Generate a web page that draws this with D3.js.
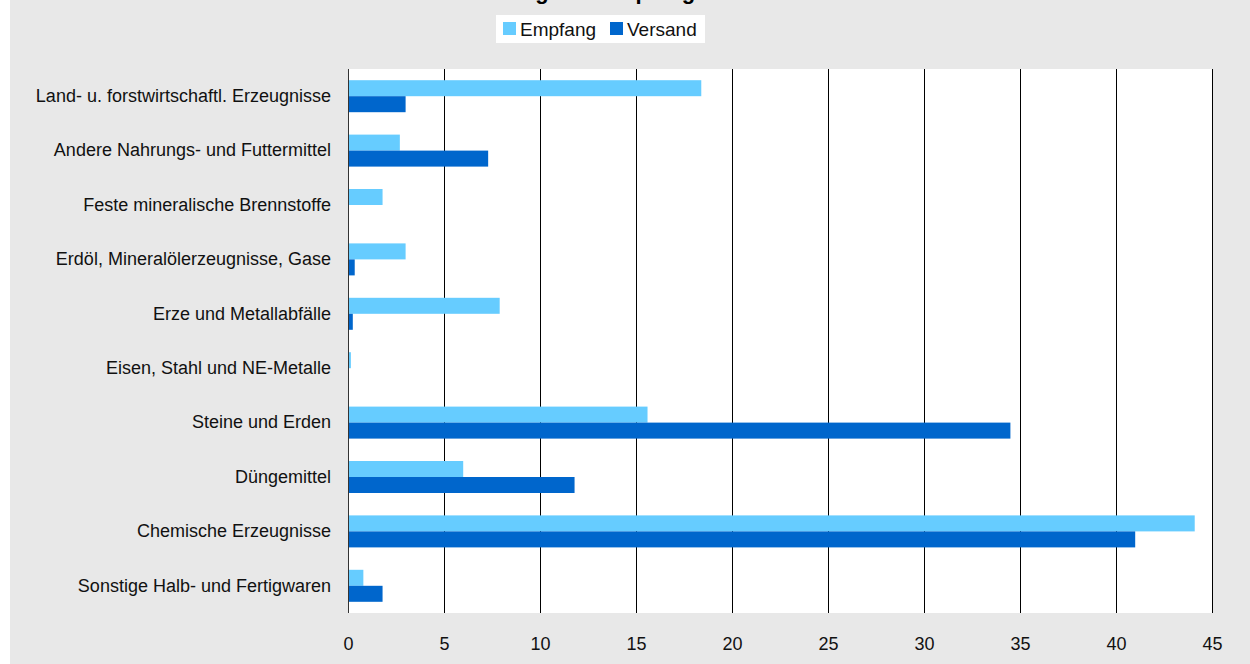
<!DOCTYPE html>
<html>
<head>
<meta charset="utf-8">
<script src="https://cdn.jsdelivr.net/npm/d3@7/dist/d3.min.js"></script>
<style>
  html, body { margin: 0; padding: 0; background: #ffffff; }
  svg { display: block; font-family: "Liberation Sans", Arial, sans-serif; }
</style>
</head>
<body>
<svg id="chart" width="1250" height="664"></svg>
<script>
const categories = [
  "Land- u. forstwirtschaftl. Erzeugnisse",
  "Andere Nahrungs- und Futtermittel",
  "Feste mineralische Brennstoffe",
  "Erdöl, Mineralölerzeugnisse, Gase",
  "Erze und Metallabfälle",
  "Eisen, Stahl und NE-Metalle",
  "Steine und Erden",
  "Düngemittel",
  "Chemische Erzeugnisse",
  "Sonstige Halb- und Fertigwaren"
];
const seriesNames = ["Empfang", "Versand"];
const empfang = [18.4, 2.7, 1.8, 3.0, 7.9, 0.15, 15.6, 6.0, 44.1, 0.8];
const versand = [3.0, 7.3, 0, 0.35, 0.25, 0, 34.5, 11.8, 41.0, 1.8];
const xTicks = [0, 5, 10, 15, 20, 25, 30, 35, 40, 45];
const titleText = "Versendung und Empfang";

const colors = { "Empfang": "#66CCFF", "Versand": "#0066CC" };
const seriesValues = { "Empfang": empfang, "Versand": versand };

const svg = d3.select("#chart");
const W = 1250, H = 664;
const plot = { left: 348, right: 1212, top: 69, bottom: 613 };

// backgrounds
svg.append("rect").attr("x", 10).attr("y", 0).attr("width", W - 10).attr("height", H).attr("fill", "#e8e8e8");
svg.append("rect").attr("x", plot.left).attr("y", plot.top)
  .attr("width", plot.right - plot.left).attr("height", plot.bottom - plot.top).attr("fill", "#ffffff");

// title (mostly cut off at top)
svg.append("text").attr("x", 559).attr("y", -1).attr("text-anchor", "middle")
  .attr("font-size", 22).attr("font-weight", "bold").attr("fill", "#000")
  .text(titleText);

const x = d3.scaleLinear().domain([0, 45]).range([plot.left, plot.right]);
const y = d3.scaleBand().domain(categories).range([plot.top, plot.bottom]).padding(0);
const ySub = d3.scaleBand().domain(seriesNames).range([0, y.bandwidth()]).paddingInner(0).paddingOuter(0.7);

// gridlines
svg.append("g").selectAll("line").data(xTicks.filter(d => d > 0)).join("line")
  .attr("x1", d => Math.round(x(d)) + 0.5).attr("x2", d => Math.round(x(d)) + 0.5)
  .attr("y1", plot.top).attr("y2", plot.bottom)
  .attr("stroke", "#000").attr("stroke-width", 1);

// bars
const rows = [];
categories.forEach((c, i) => seriesNames.forEach(s => rows.push({ c, s, v: seriesValues[s][i] })));
svg.append("g").selectAll("rect").data(rows.filter(d => d.v > 0)).join("rect")
  .attr("x", x(0))
  .attr("y", d => y(d.c) + ySub(d.s))
  .attr("width", d => x(d.v) - x(0))
  .attr("height", ySub.bandwidth())
  .attr("fill", d => colors[d.s]);

// left axis line
svg.append("line").attr("x1", plot.left + 0.5).attr("x2", plot.left + 0.5)
  .attr("y1", plot.top).attr("y2", plot.bottom).attr("stroke", "#333").attr("stroke-width", 1);

// x axis labels
const xAxis = d3.axisBottom(x).tickValues(xTicks).tickSize(0).tickPadding(0).tickFormat(d3.format("d"));
const gx = svg.append("g").attr("transform", `translate(0,${plot.bottom})`).call(xAxis);
gx.select(".domain").remove();
gx.selectAll("text").attr("font-size", 18).attr("font-family", "Liberation Sans, Arial, sans-serif")
  .attr("fill", "#111").attr("dy", null).attr("y", 37);

// y axis labels
const yAxis = d3.axisLeft(y).tickSize(0).tickPadding(17);
const gy = svg.append("g").attr("transform", `translate(${plot.left},0)`).call(yAxis);
gy.select(".domain").remove();
gy.selectAll("text").attr("font-size", 18).attr("font-family", "Liberation Sans, Arial, sans-serif")
  .attr("fill", "#111");

// legend
const lg = svg.append("g");
lg.append("rect").attr("x", 496).attr("y", 15).attr("width", 209).attr("height", 28).attr("fill", "#fff");
const legendItems = [
  { s: "Empfang", sx: 503, tx: 520 },
  { s: "Versand", sx: 610, tx: 627 }
];
legendItems.forEach(it => {
  lg.append("rect").attr("x", it.sx).attr("y", 22).attr("width", 13).attr("height", 13).attr("fill", colors[it.s]);
  lg.append("text").attr("x", it.tx).attr("y", 29).attr("dy", "0.35em")
    .attr("font-size", 19).attr("fill", "#111").text(it.s);
});
</script>
</body>
</html>
